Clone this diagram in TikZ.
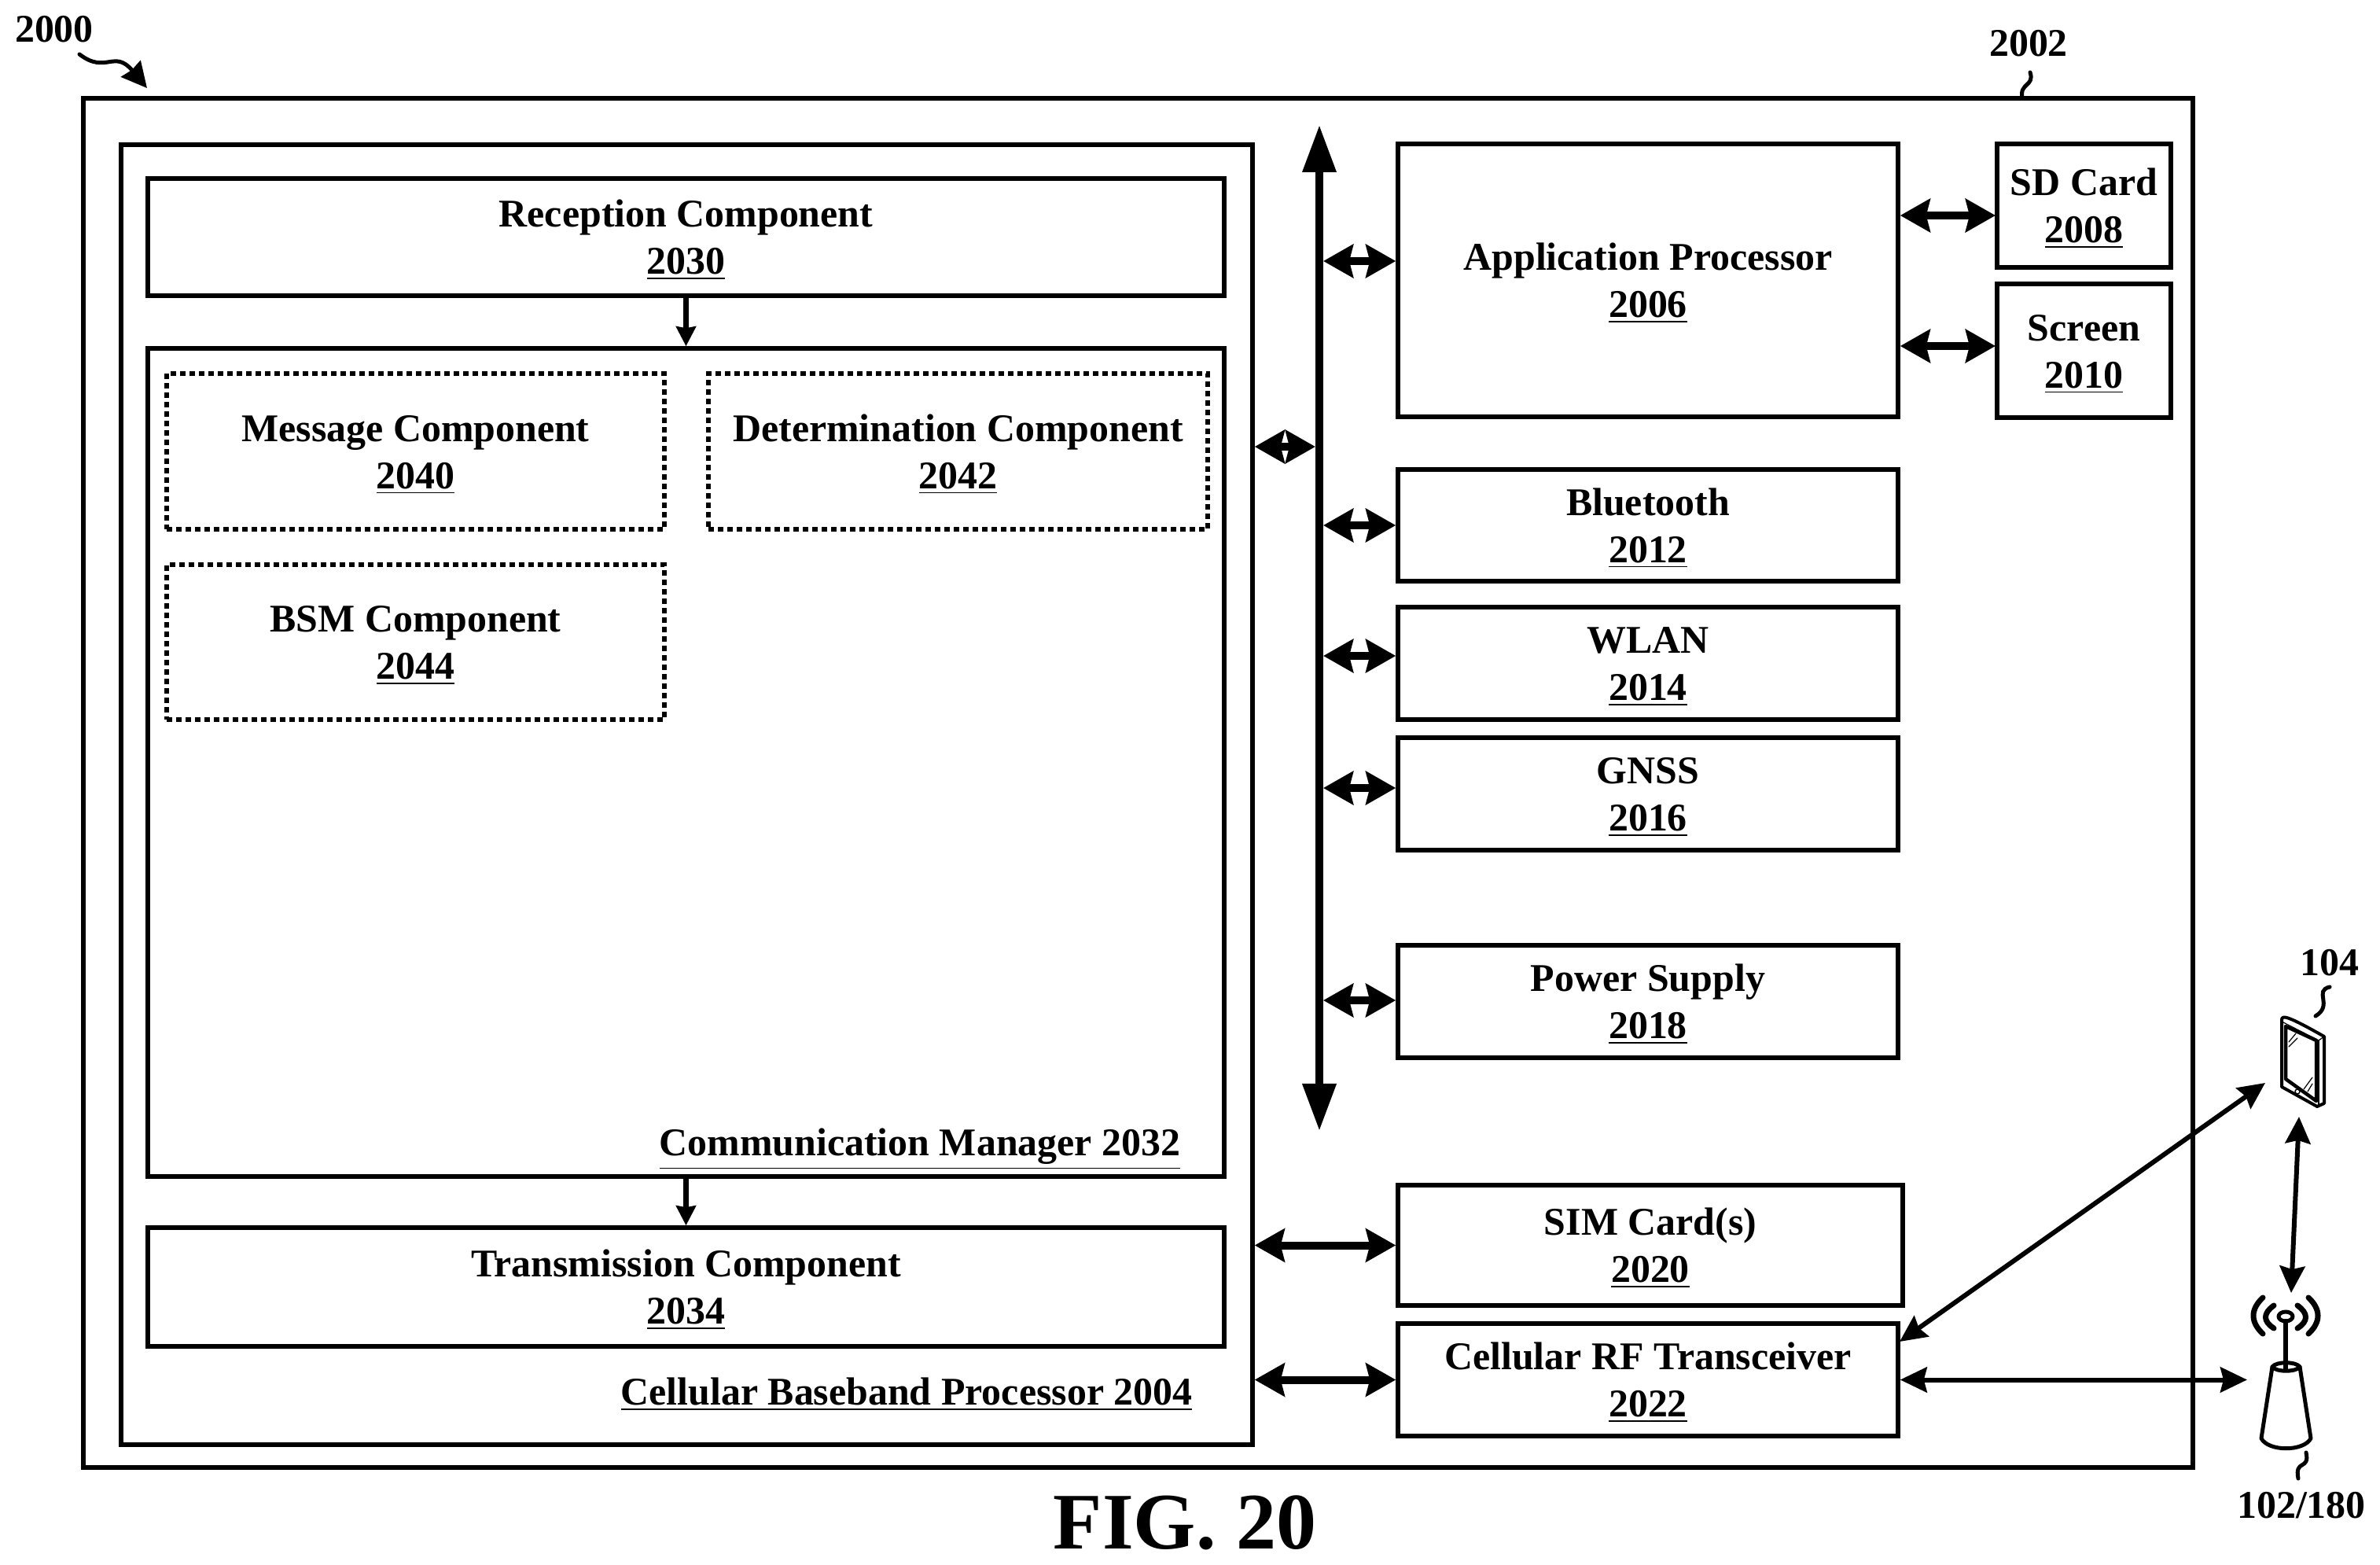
\documentclass[tikz,border=0pt]{standalone}
\usepackage{fontspec}
\setmainfont{Liberation Serif}
\usetikzlibrary{arrows.meta}
\newcommand{\twolines}[2]{\rule{0pt}{0.42cm}#1\\\underline{#2}}
\tikzset{
box/.style={draw=black,line width=0.055cm,rectangle,align=center,inner sep=0pt,font=\bfseries\fontsize{14.2}{17}\selectfont},
dashbox/.style={box,dash pattern=on 0.07cm off 0.05cm},
lbl/.style={inner sep=0pt,align=center,font=\bfseries\fontsize{14.2}{17}\selectfont},
duplex/.style={line width=0.1cm,{Stealth[length=0.38cm,width=0.42cm,inset=0.05cm]}-{Stealth[length=0.38cm,width=0.42cm,inset=0.05cm]}},
thin duplex/.style={line width=0.06cm,{Stealth[length=0.34cm,width=0.32cm,inset=0.04cm]}-{Stealth[length=0.34cm,width=0.32cm,inset=0.04cm]}},
flow/.style={line width=0.065cm,-{Stealth[length=0.25cm,width=0.25cm,inset=0.02cm]}},
leader/.style={line width=0.05cm,line cap=round},
icon/.style={line width=0.05cm,line join=round,line cap=round}
}
\begin{document}
\begin{tikzpicture}
\useasboundingbox (0,0) rectangle (30.27,-19.9);

\node[box,minimum width=26.83cm,minimum height=17.41cm] (device) at (14.475,-9.955) {};
\node[box,minimum width=14.39cm,minimum height=16.53cm] (baseband) at (8.735,-10.105) {};
\node[box,minimum width=13.69cm,minimum height=1.49cm] (reception) at (8.725,-3.015) {\twolines{Reception Component}{2030}};
\node[box,minimum width=13.69cm,minimum height=10.53cm] (manager) at (8.725,-9.695) {};
\node[box,minimum width=13.69cm,minimum height=1.51cm] (transmission) at (8.725,-16.365) {\twolines{Transmission Component}{2034}};
\node[dashbox,minimum width=6.33cm,minimum height=1.98cm] (message) at (5.285,-5.74) {\twolines{Message Component}{2040}};
\node[dashbox,minimum width=6.35cm,minimum height=1.98cm] (determination) at (12.185,-5.74) {\twolines{Determination Component}{2042}};
\node[dashbox,minimum width=6.33cm,minimum height=1.97cm] (bsm) at (5.285,-8.165) {\twolines{BSM Component}{2044}};
\node[lbl] (managerlbl) at (11.7,-14.61) {\underline{Communication Manager 2032}};
\node[lbl] (basebandlbl) at (11.53,-17.73) {\underline{Cellular Baseband Processor 2004}};

\node[box,minimum width=6.36cm,minimum height=3.47cm] (app) at (20.96,-3.565) {\twolines{Application Processor}{2006}};
\node[box,minimum width=2.21cm,minimum height=1.57cm] (sd) at (26.505,-2.615) {\twolines{SD Card}{2008}};
\node[box,minimum width=2.21cm,minimum height=1.70cm] (screen) at (26.505,-4.46) {\twolines{Screen}{2010}};
\node[box,minimum width=6.36cm,minimum height=1.42cm] (bluetooth) at (20.96,-6.68) {\twolines{Bluetooth}{2012}};
\node[box,minimum width=6.36cm,minimum height=1.43cm] (wlan) at (20.96,-8.435) {\twolines{WLAN}{2014}};
\node[box,minimum width=6.36cm,minimum height=1.43cm] (gnss) at (20.96,-10.095) {\twolines{GNSS}{2016}};
\node[box,minimum width=6.36cm,minimum height=1.43cm] (power) at (20.96,-12.735) {\twolines{Power Supply}{2018}};
\node[box,minimum width=6.42cm,minimum height=1.53cm] (sim) at (20.99,-15.835) {\twolines{SIM Card(s)}{2020}};
\node[box,minimum width=6.36cm,minimum height=1.43cm] (rf) at (20.96,-17.545) {\twolines{Cellular RF Transceiver}{2022}};

\coordinate (bustop) at (16.78,-1.59);
\coordinate (busbot) at (16.78,-14.38);
\draw[line width=0.1cm,{Stealth[length=0.6cm,width=0.41cm,inset=0pt]}-{Stealth[length=0.6cm,width=0.41cm,inset=0pt]}] (bustop) -- (busbot);

\coordinate (tapapp) at (16.83,-3.32);
\coordinate (tapbase) at (16.73,-5.68);
\coordinate (tapbt) at (16.83,-6.68);
\coordinate (tapwlan) at (16.83,-8.34);
\coordinate (tapgnss) at (16.83,-10.02);
\coordinate (tappower) at (16.83,-12.72);
\coordinate (tapsd) at (25.38,-2.74);
\coordinate (tapscreen) at (25.38,-4.40);
\draw[duplex] (tapapp) -- (tapapp -| app.west);
\draw[duplex] (tapbase -| baseband.east) -- (tapbase);
\draw[duplex] (tapbt) -- (bluetooth);
\draw[duplex] (tapwlan) -- (tapwlan -| wlan.west);
\draw[duplex] (tapgnss) -- (tapgnss -| gnss.west);
\draw[duplex] (tappower) -- (tappower -| power.west);
\draw[duplex] (tapsd -| app.east) -- (tapsd);
\draw[duplex] (tapscreen -| app.east) -- (tapscreen);
\draw[duplex] (baseband.east |- sim) -- (sim);
\draw[duplex] (baseband.east |- rf) -- (rf);
\draw[flow] (reception) -- (manager);
\draw[flow] (manager) -- (transmission);

\coordinate (rfcorner) at (24.16,-17.06);
\coordinate (phonein) at (28.81,-13.77);
\coordinate (phoneout) at (29.24,-14.20);
\coordinate (towerin) at (29.14,-16.44);
\coordinate (towerside) at (28.58,-17.545);
\draw[thin duplex] (rfcorner) -- (phonein);
\draw[thin duplex] (phoneout) -- (towerin);
\draw[thin duplex] (rf) -- (towerside);

\draw[icon,line width=0.04cm] (29.02,-12.97) .. controls (29.02,-12.90) and (29.10,-12.92) .. (29.56,-13.18) -- (29.56,-14.03) -- (29.47,-14.07) -- (29.02,-13.82) -- cycle;
\draw[icon,line width=0.045cm] (29.07,-13.05) -- (29.46,-13.23) -- (29.46,-14.00) -- (29.07,-13.72) -- cycle;
\draw[icon,line width=0.012cm] (29.02,-12.99) -- (29.49,-13.23) -- (29.56,-13.18);
\draw[icon,line width=0.012cm] (29.49,-13.23) -- (29.49,-14.05);
\draw[icon,line width=0.015cm] (29.22,-13.88) ellipse (0.03 and 0.03);
\draw[icon,line width=0.012cm] (29.11,-13.25) -- (29.20,-13.14) (29.11,-13.31) -- (29.22,-13.20);
\draw[icon,line width=0.012cm] (29.30,-13.85) -- (29.41,-13.70) (29.35,-13.88) -- (29.41,-13.78);

\draw[icon] (28.90,-17.38) -- (28.76,-18.29) .. controls (28.85,-18.46) and (29.30,-18.46) .. (29.39,-18.29) -- (29.25,-17.38);
\draw[icon] (28.90,-17.38) .. controls (28.95,-17.31) and (29.20,-17.31) .. (29.25,-17.38) .. controls (29.20,-17.45) and (28.95,-17.45) .. (28.90,-17.38);
\draw[icon,line width=0.06cm] (29.07,-17.42) -- (29.07,-16.80);
\draw[icon] (29.07,-16.74) ellipse (0.09 and 0.06);
\draw[icon,line width=0.07cm] (28.92,-16.60) .. controls (28.78,-16.70) and (28.78,-16.80) .. (28.92,-16.89);
\draw[icon,line width=0.07cm] (28.78,-16.50) .. controls (28.62,-16.65) and (28.62,-16.81) .. (28.78,-16.96);
\draw[icon,line width=0.07cm] (29.22,-16.60) .. controls (29.36,-16.70) and (29.36,-16.80) .. (29.22,-16.89);
\draw[icon,line width=0.07cm] (29.36,-16.50) .. controls (29.52,-16.65) and (29.52,-16.81) .. (29.36,-16.96);

\node[lbl] (fig2000) at (0.69,-0.37) {2000};
\node[lbl] (fig2002) at (25.80,-0.55) {2002};
\node[lbl] (fig104) at (29.63,-12.24) {104};
\node[lbl] (fig102) at (29.27,-19.14) {102/180};
\node[inner sep=0pt,font=\bfseries\fontsize{29}{34}\selectfont] (figure) at (15.07,-19.36) {FIG. 20};

\coordinate (s2000a) at (1.01,-0.69);
\coordinate (s2000b) at (1.87,-1.12);
\coordinate (s2002a) at (25.82,-0.92);
\coordinate (s2002b) at (25.72,-1.25);
\coordinate (s104a) at (29.63,-12.55);
\coordinate (s104b) at (29.45,-12.92);
\coordinate (s102a) at (29.33,-18.47);
\coordinate (s102b) at (29.23,-18.80);
\draw[leader,-{Stealth[length=0.32cm,width=0.32cm,inset=0.02cm]}] (s2000a) .. controls (1.35,-0.95) and (1.45,-0.62) .. (s2000b);
\draw[leader] (s2002a) .. controls (25.88,-1.10) and (25.68,-1.05) .. (s2002b);
\draw[leader] (s104a) .. controls (29.42,-12.60) and (29.68,-12.78) .. (s104b);
\draw[leader] (s102a) .. controls (29.38,-18.70) and (29.18,-18.55) .. (s102b);
\end{tikzpicture}
\end{document}
